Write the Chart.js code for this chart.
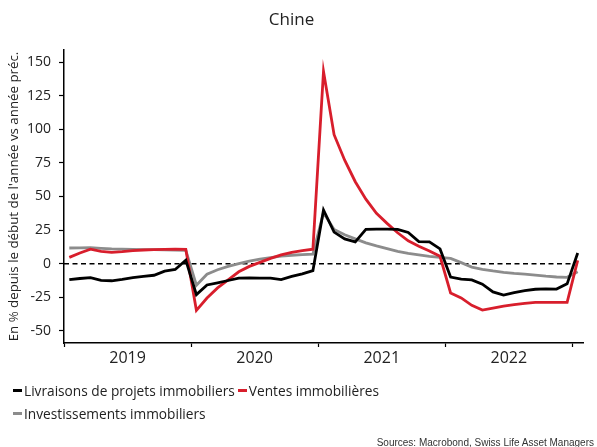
<!DOCTYPE html>
<html lang="fr">
<head>
<meta charset="utf-8">
<script src="https://cdn.jsdelivr.net/npm/chart.js@4.4.1/dist/chart.umd.min.js"></script>
<style>
  html, body { margin: 0; padding: 0; background: #fff; }
  #wrap { position: relative; width: 597px; height: 447px; overflow: hidden; }
  #legend {
    position: absolute; left: 13px; top: 379px; width: 420px;
    display: flex; flex-wrap: wrap;
    font-family: "Open Sans", sans-serif; font-size: 13.7px; color: #222;
  }
  .item { display: flex; align-items: center; height: 23px; margin-right: 3px; white-space: nowrap; }
  .mark { display: inline-block; width: 9px; height: 3px; margin-right: 2px; }
  #source {
    position: absolute; right: 3px; top: 437px;
    font-family: "Liberation Sans", Arial, sans-serif; font-size: 10px; color: #333;
  }
</style>
</head>
<body>
<div id="wrap">
  <canvas id="chart" width="597" height="447"></canvas>
  <div id="legend"></div>
  <div id="source">Sources: Macrobond, Swiss Life Asset Managers</div>
</div>
<script>
// Axis labels
const years = ["2019", "2020", "2021", "2022"];
const yTicks = [-50, -25, 0, 25, 50, 75, 100, 125, 150];

// Series names and colours
const seriesNames = ["Livraisons de projets immobiliers", "Ventes immobilières", "Investissements immobiliers"];
const seriesColors = ["#000000", "#d81e2c", "#8c8c8c"];

// Monthly values, Jan 2019 -> Jan 2023 (YTD % vs previous year)
const livraisons = [
  -11.9, -11.0, -10.3, -12.4, -12.7, -11.6, -10.3, -9.4, -8.6, -5.5, -4.3, 2.6,
  -23.0, -15.8, -14.2, -12.5, -10.8, -10.5, -10.8, -10.8, -11.8, -9.5, -7.5, -5.2,
  40.0, 23.5, 18.5, 16.2, 25.5, 25.7, 25.7, 25.6, 23.2, 16.4, 16.2, 11.0,
  -9.9, -11.4, -12.0, -15.2, -21.0, -23.3, -21.5, -20.0, -19.0, -18.8, -18.9, -15.0,
  8.0
];
const ventes = [
  4.7, 8.0, 10.8, 9.2, 8.5, 9.0, 9.8, 10.2, 10.4, 10.6, 10.8, 10.6,
  -34.7, -25.5, -18.0, -12.0, -6.0, -2.0, 1.0, 4.0, 6.5, 8.5, 9.7, 10.8,
  143.0, 96.0, 77.0, 61.0, 48.0, 37.5, 30.0, 23.0, 17.0, 13.0, 9.5, 5.5,
  -21.8, -25.5, -31.0, -34.5, -33.0, -31.5, -30.5, -29.5, -28.7, -28.7, -28.7, -28.7,
  2.5
];
const investissements = [
  11.7, 11.8, 11.9, 11.4, 11.0, 10.8, 10.6, 10.5, 10.5, 10.3, 10.2, 10.0,
  -16.0, -7.8, -4.5, -2.0, 0.0, 1.9, 3.4, 4.6, 5.6, 6.3, 6.8, 7.1,
  38.0, 25.5, 21.5, 18.5, 15.5, 13.2, 11.2, 9.2, 7.6, 6.6, 5.5, 4.7,
  3.9, 0.8, -2.5, -4.2, -5.4, -6.4, -7.2, -7.8, -8.5, -9.3, -9.9, -10.1,
  -6.0
];

// each value sits in the middle of its month
function toPoints(values) {
  return values.map((v, i) => ({ x: i + 0.5, y: v }));
}

Chart.defaults.font.family = "'Open Sans', sans-serif";
Chart.defaults.color = "#222";

// dashed line at zero
const zeroLine = {
  id: "zeroLine",
  beforeDatasetsDraw(chart) {
    const { ctx, chartArea, scales } = chart;
    const y = scales.y.getPixelForValue(0);
    ctx.save();
    ctx.strokeStyle = "#000";
    ctx.lineWidth = 1.5;
    ctx.setLineDash([5, 3.5]);
    ctx.beginPath();
    ctx.moveTo(chartArea.left, y);
    ctx.lineTo(scales.x.getPixelForValue(48), y);
    ctx.stroke();
    ctx.restore();
  }
};

const seriesData = [livraisons, ventes, investissements];

const chart = new Chart(document.getElementById("chart"), {
  type: "line",
  data: {
    datasets: seriesData.map((values, i) => ({
      label: seriesNames[i],
      data: toPoints(values),
      borderColor: seriesColors[i],
      backgroundColor: seriesColors[i],
      borderWidth: 2.8,
      pointRadius: 0,
      tension: 0,
      fill: false
    }))
  },
  options: {
    responsive: false,
    animation: false,
    layout: { padding: { left: 0, right: 14, top: 0, bottom: 74 } },
    plugins: {
      legend: { display: false },
      tooltip: { enabled: false },
      title: {
        display: true,
        text: "Chine",
        color: "#222",
        font: { size: 17, weight: "normal" },
        padding: { top: 10, bottom: 19.6 }
      }
    },
    scales: {
      x: {
        type: "linear",
        min: 0,
        max: 49,
        afterBuildTicks: (scale) => {
          scale.ticks = [0, 6, 12, 18, 24, 30, 36, 42, 48].map(v => ({ value: v }));
        },
        afterFit: (scale) => { scale.height = 30; },
        ticks: {
          autoSkip: false,
          maxRotation: 0,
          padding: 2,
          color: "#222",
          font: { size: 16 },
          callback: (value) => (value % 12 === 6 ? years[(value - 6) / 12] : "")
        },
        grid: {
          drawOnChartArea: false,
          tickLength: 4,
          tickWidth: 1.2,
          tickColor: (ctx) => (ctx.tick && ctx.tick.value % 12 === 0 ? "#000" : "rgba(0,0,0,0)")
        },
        border: { color: "#000", width: 1.5 }
      },
      y: {
        min: -59,
        max: 159,
        afterBuildTicks: (scale) => {
          scale.ticks = yTicks.map(v => ({ value: v }));
        },
        afterFit: (scale) => { scale.width = 64; },
        ticks: {
          padding: 8,
          color: "#222",
          font: { size: 14 }
        },
        grid: {
          drawOnChartArea: false,
          tickLength: 5,
          tickColor: "#000",
          tickWidth: 1.2
        },
        border: { color: "#000", width: 1.5 },
        title: {
          display: true,
          text: "En % depuis le début de l'année vs année préc.",
          color: "#222",
          font: { size: 13.3 },
          padding: { top: 6, bottom: 2 }
        }
      }
    }
  },
  plugins: [zeroLine]
});

// legend built from the datasets
const legendEl = document.getElementById("legend");
chart.data.datasets.forEach((ds) => {
  const item = document.createElement("div");
  item.className = "item";
  item.innerHTML = `<span class="mark" style="background:${ds.borderColor}"></span><span>${ds.label}</span>`;
  legendEl.appendChild(item);
});
</script>
</body>
</html>
